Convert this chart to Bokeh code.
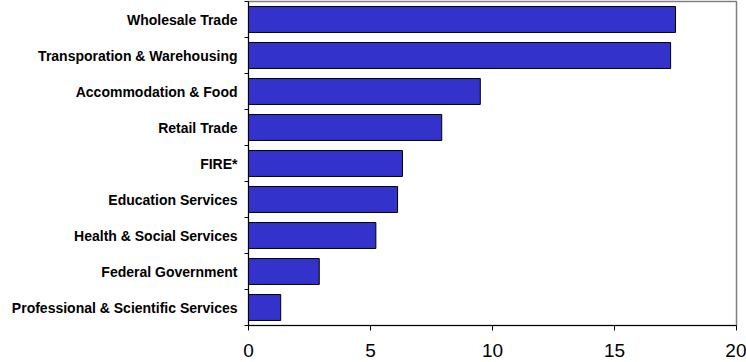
from bokeh.plotting import figure
from bokeh.models import Range1d, FixedTicker, ColumnDataSource
from bokeh.embed import file_html
from bokeh.resources import INLINE

categories = [
    "Wholesale Trade",
    "Transporation & Warehousing",
    "Accommodation & Food",
    "Retail Trade",
    "FIRE*",
    "Education Services",
    "Health & Social Services",
    "Federal Government",
    "Professional & Scientific Services",
]
values = [17.5, 17.3, 9.5, 7.92, 6.31, 6.11, 5.22, 2.9, 1.32]
x_ticks = [0, 5, 10, 15, 20]

n = len(categories)
centers = [n - i - 0.5 for i in range(n)]
boundaries = list(range(0, n + 1))

src = ColumnDataSource(dict(y=centers, right=values, cat=categories))

p = figure(width=746, height=362, output_backend="svg", toolbar_location=None,
           x_range=Range1d(0, 20), y_range=Range1d(0, n),
           min_border_left=248, min_border_right=10, min_border_top=1,
           min_border_bottom=37)

p.hbar(y="y", right="right", left=0, height=0.72, source=src,
       fill_color="#3333CC", line_color="#000000", line_width=1)

p.grid.visible = False
p.outline_line_color = "#808080"
p.outline_line_width = 1.5
p.background_fill_color = "white"
p.border_fill_color = "white"

yax = p.yaxis[0]
yax.ticker = FixedTicker(ticks=centers, minor_ticks=boundaries)
yax.major_label_overrides = {c: categories[i] for i, c in enumerate(centers)}
yax.major_tick_out = 0
yax.major_tick_in = 0
yax.minor_tick_out = 4
yax.minor_tick_in = 0
yax.minor_tick_line_color = "black"
yax.axis_line_color = "black"
yax.major_label_text_font = "Liberation Sans"
yax.major_label_text_font_style = "bold"
yax.major_label_text_font_size = "14px"
yax.major_label_text_color = "black"
yax.major_label_standoff = 7

xax = p.xaxis[0]
xax.ticker = FixedTicker(ticks=x_ticks)
xax.major_tick_out = 5
xax.major_tick_in = 0
xax.minor_tick_out = 0
xax.minor_tick_in = 0
xax.axis_line_color = "black"
xax.major_tick_line_color = "black"
xax.major_label_text_font = "Liberation Sans"
xax.major_label_text_font_size = "19px"
xax.major_label_text_color = "black"
xax.major_label_standoff = 13

open("out.html", "w").write(file_html(p, INLINE))
